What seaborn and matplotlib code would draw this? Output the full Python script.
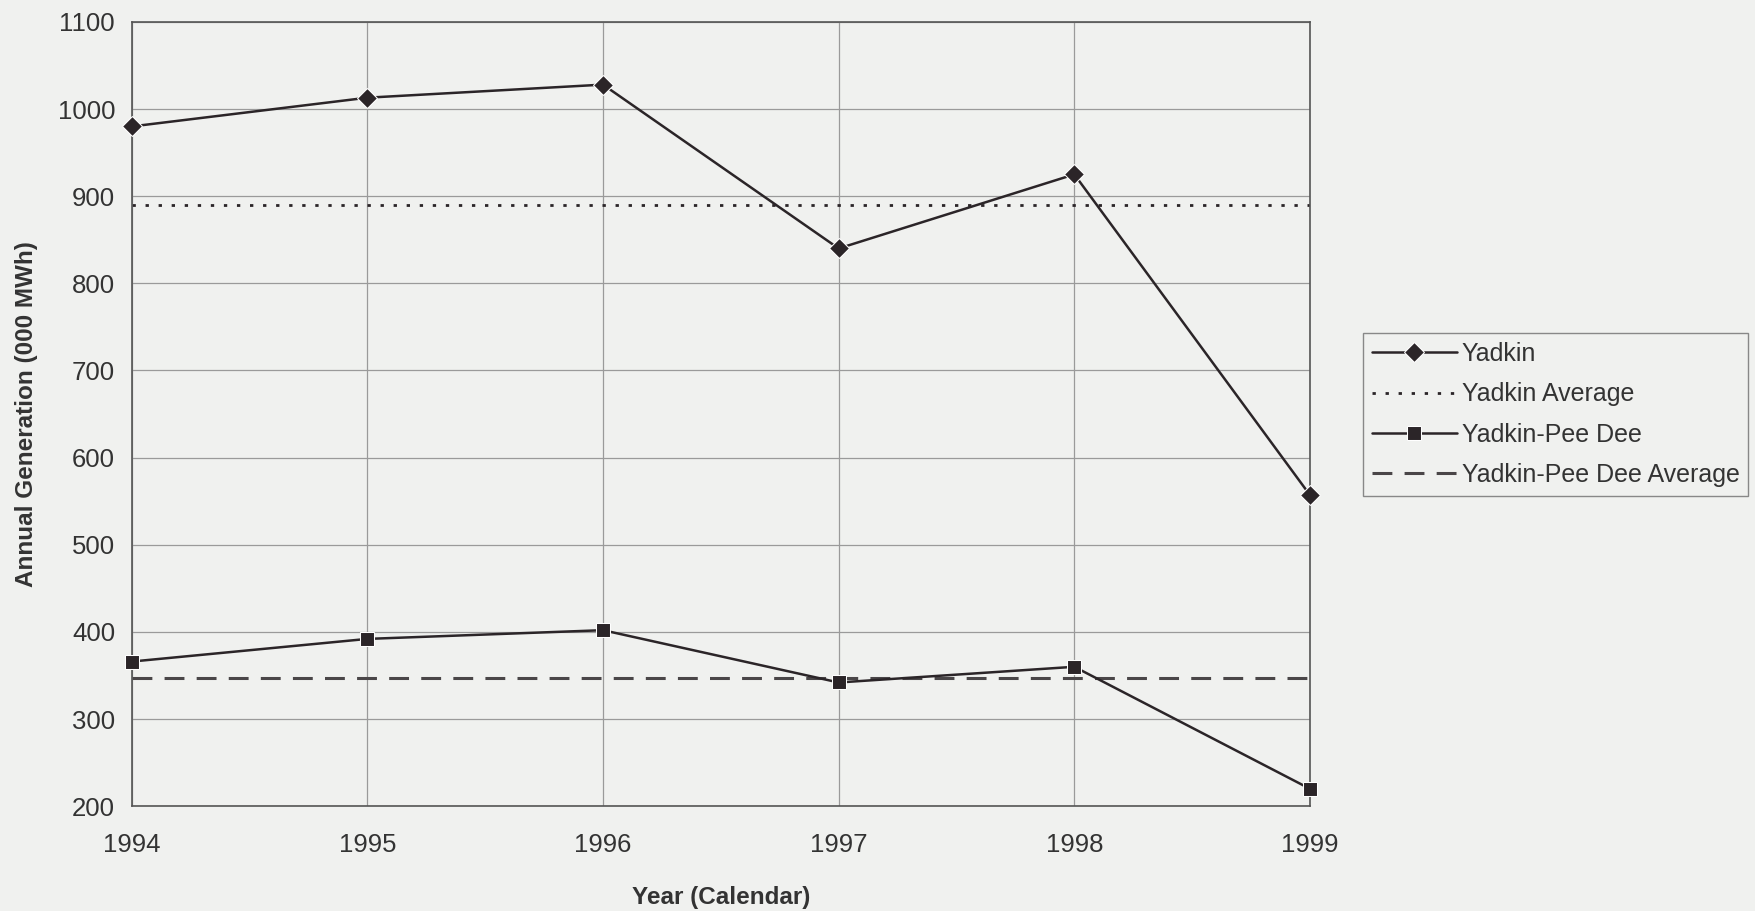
import pandas as pd
import matplotlib
matplotlib.use("Agg")
import matplotlib.pyplot as plt
import seaborn as sns

years = [1994, 1995, 1996, 1997, 1998, 1999]
yadkin = [980, 1013, 1028, 840, 925, 557]
yadkin_avg = 890
pee_dee = [366, 392, 402, 342, 360, 220]
pee_dee_avg = 347

sns.set_theme(style="whitegrid")
plt.rcParams['font.family'] = ['Liberation Sans', 'DejaVu Sans']

bg = "#f0f1ef"
ink = "#2b2528"

df = pd.DataFrame({"Year": years, "Yadkin": yadkin, "Yadkin-Pee Dee": pee_dee})

fig = plt.figure(figsize=(17.56, 9.11), dpi=100, facecolor=bg)
ax = fig.add_axes([0.075, 0.115, 0.671, 0.861])
ax.set_facecolor(bg)

sns.lineplot(data=df, x="Year", y="Yadkin", ax=ax, color=ink, marker="D",
             markersize=10, linewidth=1.8, label="Yadkin", clip_on=False, zorder=5)
ax.axhline(yadkin_avg, color=ink, linestyle=(0, (1.2, 3.5)), linewidth=2,
           label="Yadkin Average")
sns.lineplot(data=df, x="Year", y="Yadkin-Pee Dee", ax=ax, color=ink, marker="s",
             markersize=10, linewidth=1.8, label="Yadkin-Pee Dee", clip_on=False, zorder=5)
ax.axhline(pee_dee_avg, color="#4a4648", linestyle=(0, (6.5, 4)), linewidth=2.2,
           label="Yadkin-Pee Dee Average")

ax.set_xlim(1994, 1999)
ax.set_ylim(200, 1100)
ax.set_xticks(years)
ax.set_yticks(range(200, 1101, 100))
ax.grid(True, color="#9a9a9a", linewidth=0.9)
for s in ax.spines.values():
    s.set_color("#555555")
    s.set_linewidth(1.2)

ax.tick_params(axis="both", labelsize=18.5, colors="#333333", length=0)
ax.tick_params(axis="x", pad=19)
ax.tick_params(axis="y", pad=12)
ax.set_xlabel("Year (Calendar)", fontsize=17.5, fontweight="bold", color="#333333", labelpad=21)
ax.set_ylabel("Annual Generation (000 MWh)", fontsize=17.5, fontweight="bold", color="#333333", labelpad=14)

leg = ax.legend(loc="upper left", bbox_to_anchor=(1.045, 0.603), fontsize=18,
                frameon=True, fancybox=False, framealpha=1, facecolor=bg,
                edgecolor="#888888", handlelength=3.4, handletextpad=0.2,
                labelspacing=0.65, borderpad=0.35, borderaxespad=0)
for t in leg.get_texts():
    t.set_color("#333333")

fig.savefig("out.png", dpi=100, facecolor=bg)
